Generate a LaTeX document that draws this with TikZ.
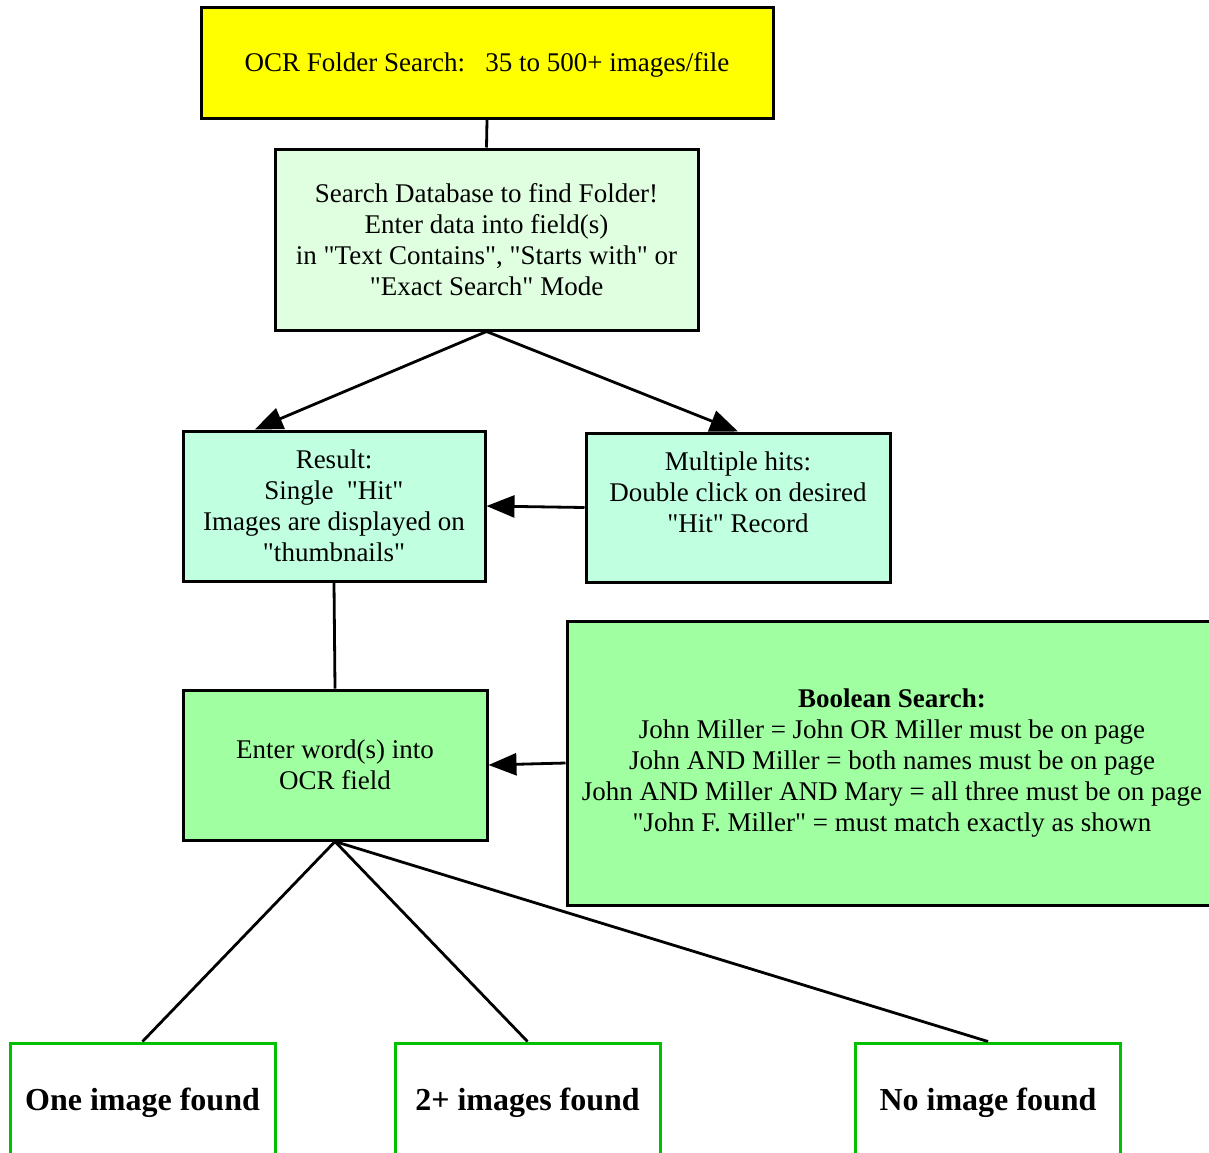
\documentclass[tikz,border=0pt]{standalone}
\usepackage{fontspec}
\setmainfont{Liberation Serif}
\newfontfamily\tnr{Liberation Serif}
\usetikzlibrary{arrows.meta,calc}
\definecolor{topyellow}{HTML}{FFFF00}
\definecolor{palegreen}{HTML}{E0FFE0}
\definecolor{mintc}{HTML}{C0FFE0}
\definecolor{midgreen}{HTML}{A0FFA0}
\definecolor{edgegreen}{HTML}{00C000}
\newcommand\qq{\char34\relax}
\begin{document}
\begin{tikzpicture}[x=1pt,y=-1pt,
  box/.style={draw=black,line width=3pt,rectangle,inner sep=0pt,align=center,
    font=\tnr\fontsize{27}{31}\selectfont,
    execute at begin node={\rule{0pt}{24.5pt}}},
  endbox/.style={draw=edgegreen,line width=3pt,rectangle,inner sep=0pt,align=center,
    fill=white,minimum width=265pt,minimum height=114pt,
    font=\tnr\fontsize{32}{34}\selectfont\bfseries,
    execute at begin node={\rule{0pt}{27.5pt}}},
  conn/.style={line width=2.8pt,black},
  arr/.style={conn,-{Triangle[length=28pt,width=22pt]}}
]
\useasboundingbox (0,0) rectangle (1209,1152);
\fill[white] (0,0) rectangle (1209,1152);

\node[box,fill=topyellow,minimum width=572pt,minimum height=111pt] (top) at (487,62.5)
  {OCR Folder Search:\ \ \ 35 to 500+ images/file};
\node[box,fill=palegreen,minimum width=423pt,minimum height=181pt] (db) at (486.5,239.5)
  {Search Database to find Folder!\\Enter data into field(s)\\in \qq Text Contains\qq, \qq Starts with\qq\ or\\\qq Exact Search\qq\ Mode};
\node[box,fill=mintc,minimum width=302pt,minimum height=150pt] (res) at (334,506)
  {Result:\\Single\ \ \qq Hit\qq\\Images are displayed on\\\qq thumbnails\qq};
\node[box,fill=mintc,minimum width=304pt,minimum height=149pt] (multi) at (738,507.5)
  {Multiple hits:\\Double click on desired\\\qq Hit\qq\ Record\\\mbox{}};
\node[box,fill=midgreen,minimum width=304pt,minimum height=150pt] (ocr) at (335,765)
  {Enter word(s) into\\OCR field};
\node[box,fill=midgreen,minimum width=650pt,minimum height=284pt] (bool) at (892,763)
  {\textbf{Boolean Search:}\\John Miller = John OR Miller must be on page\\John AND Miller = both names must be on page\\John AND Miller AND Mary = all three must be on page\\\qq John F. Miller\qq\ = must match exactly as shown};

\node[endbox] (one) at (142.5,1100) {One image found};
\node[endbox] (two) at (527.5,1100) {2+ images found};
\node[endbox] (none) at (988,1100) {No image found};

\draw[conn] (top.south) -- (db.north);
\draw[arr] (db.south) -- ($(res.north west)!0.24!(res.north east)$);
\draw[arr] (db.south) -- ($(multi.north west)!0.5!(multi.north east)$);
\draw[arr] (multi.west) -- (res.east);
\draw[conn] (res.south) -- (ocr.north);
\draw[arr] (bool.west) -- (ocr.east);
\draw[conn] (ocr.south) -- (one.north);
\draw[conn] (ocr.south) -- (two.north);
\draw[conn] (ocr.south) -- (none.north);
\end{tikzpicture}
\end{document}
